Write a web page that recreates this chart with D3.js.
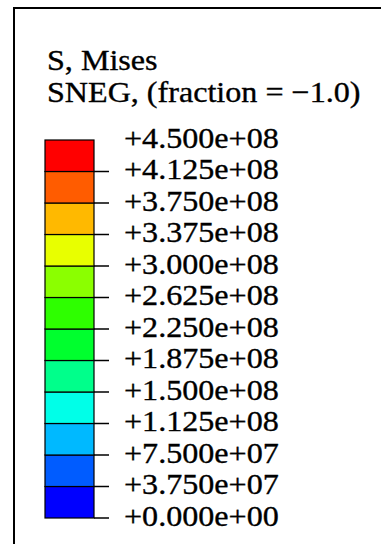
<!DOCTYPE html>
<html>
<head>
<meta charset="utf-8">
<script src="https://cdn.jsdelivr.net/npm/d3@7"></script>
<style>
  html, body { margin: 0; padding: 0; background: #fff; }
  svg { display: block; }
  text { font-family: "Liberation Serif", "Times New Roman", serif; fill: #000; stroke: #000; stroke-width: 0.35px; }
</style>
</head>
<body>
<div id="chart"></div>
<script>
// Contour legend for von Mises stress
const titleLines = ["S, Mises", "SNEG, (fraction = \u22121.0)"];
const levels = [0, 3.75e7, 7.5e7, 1.125e8, 1.5e8, 1.875e8, 2.25e8, 2.625e8, 3.0e8, 3.375e8, 3.75e8, 4.125e8, 4.5e8];
// band colours, from the lowest band (blue) up to the highest (red)
const bandColors = ["#0000ff", "#005cff", "#00b9ff", "#00ffe8", "#00ff8b", "#00ff2e",
                    "#2eff00", "#8bff00", "#e8ff00", "#ffb900", "#ff5c00", "#ff0000"];

const W = 381, H = 544;
const FONT = 30, WIDEN = 1.07; // slightly wide lettering, like the Abaqus viewport font

const svg = d3.select("#chart").append("svg").attr("width", W).attr("height", H);

// stretch a text selection horizontally by a fixed factor
const widen = sel => sel.each(function () {
  const len = this.getComputedTextLength();
  d3.select(this).attr("textLength", len * WIDEN).attr("lengthAdjust", "spacingAndGlyphs");
});

// legend frame (open to the right and bottom, clipped by the page)
svg.append("path")
  .attr("d", `M14,${H + 5} L14,8 L${W + 5},8`)
  .attr("fill", "none").attr("stroke", "#000").attr("stroke-width", 2);

// titles
svg.selectAll("text.title").data(titleLines).join("text")
  .attr("class", "title")
  .attr("x", 47)
  .attr("y", (d, i) => 69.5 + i * 32)
  .attr("font-size", FONT)
  .text(d => d)
  .call(widen);

const barX = 45, barW = 49;
const y = d3.scaleLinear().domain([levels[0], levels[levels.length - 1]]).range([518, 140]);

const bands = d3.range(levels.length - 1).map(i => ({ lo: levels[i], hi: levels[i + 1], color: bandColors[i] }));

svg.append("g").selectAll("rect").data(bands).join("rect")
  .attr("x", barX)
  .attr("y", d => y(d.hi))
  .attr("width", barW)
  .attr("height", d => y(d.lo) - y(d.hi))
  .attr("fill", d => d.color)
  .attr("stroke", "#000")
  .attr("stroke-width", 1.2);

// tick marks at every level except the top
svg.append("g").selectAll("line").data(levels.slice(0, -1)).join("line")
  .attr("x1", barX + barW)
  .attr("x2", barX + barW + 15)
  .attr("y1", d => y(d))
  .attr("y2", d => y(d))
  .attr("stroke", "#000")
  .attr("stroke-width", 1.5);

// value labels in Abaqus-style exponent notation
const fmt = v => {
  const s = d3.format(".3e")(v);
  const [m, e] = s.split("e");
  const sign = e[0] === "-" ? "-" : "+";
  const ex = e.replace(/^[+-]/, "").padStart(2, "0");
  return "+" + m + "e" + sign + ex;
};

svg.append("g").selectAll("text").data(levels).join("text")
  .attr("x", 124)
  .attr("y", d => y(d) + 7.5)
  .attr("font-size", FONT)
  .text(d => fmt(d))
  .call(widen);
</script>
</body>
</html>
